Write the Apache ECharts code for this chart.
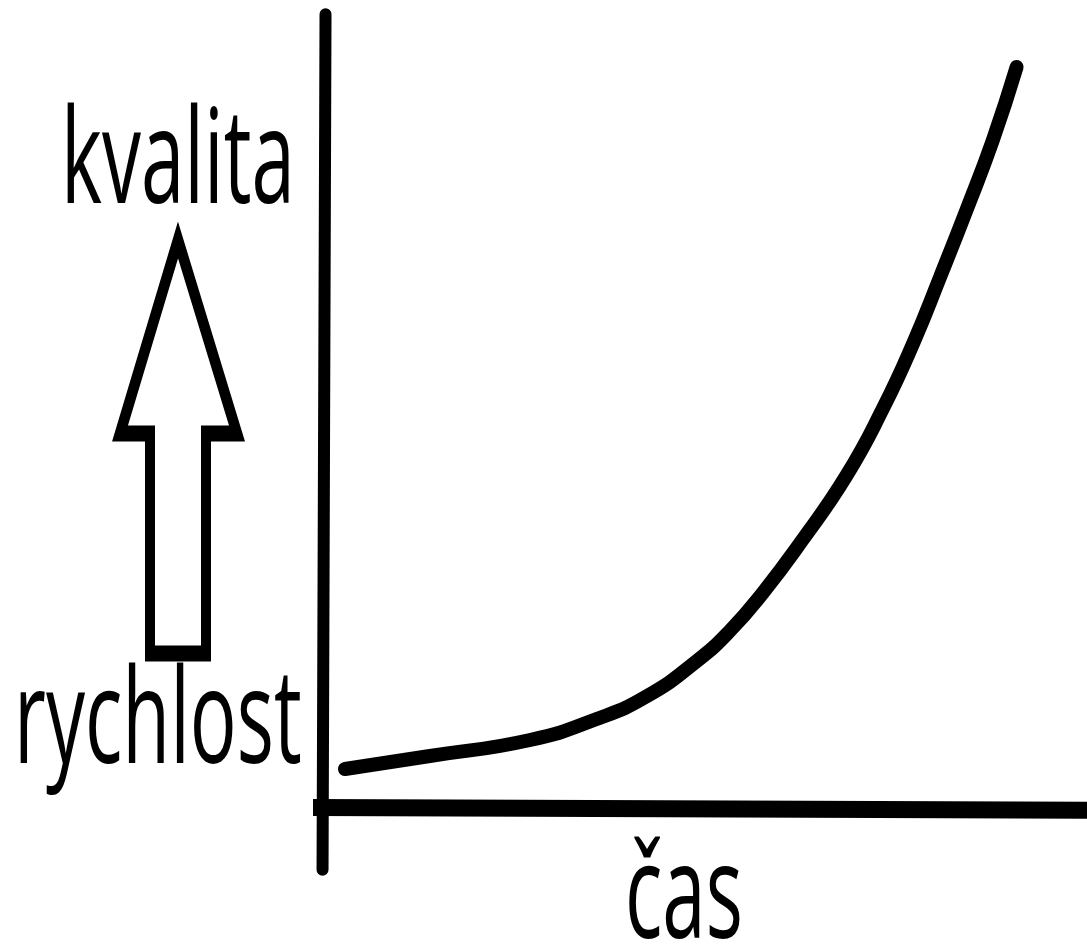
<!DOCTYPE html>
<html>
<head>
<meta charset="utf-8">
<title>kvalita / rychlost / čas</title>
<script src="https://cdn.jsdelivr.net/npm/echarts@6/dist/echarts.min.js"></script>
<style>
  html, body { margin: 0; padding: 0; background: #fff; }
  #main { width: 1087px; height: 946px; }
</style>
</head>
<body>
<div id="main"></div>
<script>
// krivka (cas, kvalita) - odhad z obrazku, osy 0..100
var curveX = [3.0, 14.1, 27.2, 35.9, 42.5, 49.0, 53.3, 57.6, 62.7, 68.6, 73.3, 77.3, 80.8, 84.3, 87.7, 90.8];
var curveY = [4.92, 6.56, 8.58, 11.22, 14.12, 18.54, 22.32, 27.11, 33.67, 41.99, 50.32, 58.64, 66.96, 75.54, 84.24, 93.44];

// rucne kreslene osy (lehce nakrivo)
var axisVert = [[0.46, 100.1], [0.07, -7.8]];
var axisHorz = [[-3.9, 0.06], [101, -0.3]];

var labelTop = 'kvalita';
var labelBottom = 'rychlost';
var labelX = 'čas';

var chart = echarts.init(document.getElementById('main'), null, { renderer: 'canvas' });

var curveData = curveX.map(function (x, i) { return [x, curveY[i]]; });

// obrazek je svisle roztazeny, proto scaleY
var stretch = 1.6;

var bigText = function (txt, x, y) {
  return {
    type: 'text',
    x: x,
    y: y,
    scaleY: 1.68,
    style: {
      text: txt,
      x: 0,
      y: 0,
      font: '78px "Open Sans"',
      fill: '#000',
      align: 'left',
      verticalAlign: 'top'
    }
  };
};

var option = {
  backgroundColor: '#fff',
  animation: false,
  grid: {
    left: 322,
    right: 0,
    top: 15,
    bottom: 138
  },
  xAxis: {
    type: 'value',
    min: 0,
    max: 100,
    show: false
  },
  yAxis: {
    type: 'value',
    min: 0,
    max: 100,
    show: false
  },
  graphic: [
    bigText(labelTop, 61, 100),
    bigText(labelBottom, 14, 660),
    bigText(labelX, 625, 835),
    {
      // prazdna sipka nahoru
      type: 'polygon',
      x: 0,
      y: 0,
      scaleY: stretch,
      shape: {
        points: [[178, 150], [120, 271], [150, 271], [150, 408.4], [206, 408.4], [206, 271], [237, 271]]
      },
      style: {
        fill: '#fff',
        stroke: '#000',
        lineWidth: 10,
        lineJoin: 'miter',
        miterLimit: 10
      }
    }
  ],
  series: [
    {
      type: 'line',
      data: axisVert,
      symbol: 'none',
      clip: false,
      silent: true,
      lineStyle: { color: '#000', width: 12, cap: 'round' }
    },
    {
      type: 'line',
      data: axisHorz,
      symbol: 'none',
      clip: false,
      silent: true,
      lineStyle: { color: '#000', width: 17, cap: 'round' }
    },
    {
      type: 'line',
      data: curveData,
      smooth: 0.5,
      symbol: 'none',
      clip: false,
      lineStyle: { color: '#000', width: 14, cap: 'round', join: 'round' }
    }
  ]
};

chart.setOption(option);
</script>
</body>
</html>
